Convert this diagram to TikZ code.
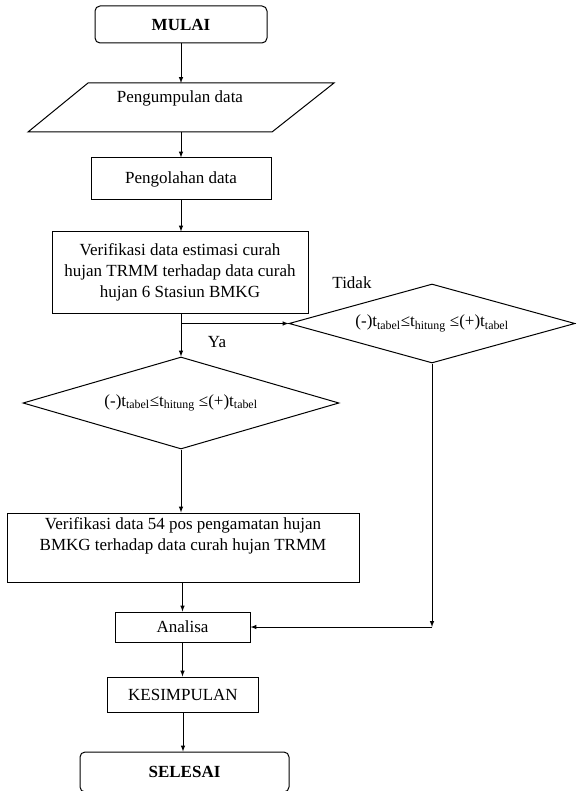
\documentclass[tikz,border=0pt]{standalone}
\usepackage{fontspec}
\setmainfont{Liberation Serif}
\usetikzlibrary{arrows,shapes.geometric}

\begin{document}
\begin{tikzpicture}[x=1pt, y=-1pt, line width=1pt,
  every node/.style={font=\fontsize{17}{21}\selectfont},
  terminal/.style={draw, rounded corners=5pt, inner sep=0pt},
  proses/.style={draw, inner sep=0pt, align=center},
  keputusan/.style={draw, diamond, aspect=3.4, inner sep=0pt},
  panah/.style={-latex}]
\useasboundingbox (0,0) rectangle (576,791);
\clip (0,0) rectangle (576,791);

\node[terminal, minimum width=172pt, minimum height=37pt] (mulai) at (181,24.5) {\textbf{MULAI}};

% input data
\draw (88,83) -- (334,83) -- (272,132) -- (28,132) -- cycle;
\coordinate (kumpulT) at (181,83);
\coordinate (kumpulB) at (181,132);
\node (kumpul) at (180,98) {Pengumpulan data};

\node[proses, minimum width=180pt, minimum height=42pt] (olah) at (181,179) {Pengolahan data};
\node[proses, minimum width=256pt, minimum height=81pt] (verif1) at (180,272.5) {Verifikasi data estimasi curah\\hujan TRMM terhadap data curah\\hujan 6 Stasiun BMKG};

\node[keputusan, minimum width=316pt, minimum height=92pt] (cek1) at (181,403) {(-)t\textsubscript{tabel}≤t\textsubscript{hitung} ≤(+)t\textsubscript{tabel}};
\node[keputusan, minimum width=286pt, minimum height=79pt] (cek2) at (432,323.5) {(-)t\textsubscript{tabel}≤t\textsubscript{hitung} ≤(+)t\textsubscript{tabel}};

\node[proses, minimum width=352pt, minimum height=69pt] (verif2) at (183,547.5) {Verifikasi data 54 pos pengamatan hujan\\BMKG terhadap data curah hujan TRMM\\ \strut};
\node[proses, minimum width=135pt, minimum height=30pt] (analisa) at (182.5,627) {Analisa};
\node[proses, minimum width=151pt, minimum height=35pt] (simpul) at (183,694.5) {KESIMPULAN};
\node[terminal, minimum width=209pt, minimum height=40pt] (selesai) at (184.5,772) {\textbf{SELESAI}};

\node (tidak) at (352,283) {Tidak};
\node (ya) at (217,342) {Ya};

% alur
\draw[panah] (mulai.south) -- (kumpulT);
\draw[panah] (kumpulB) -- (kumpulB |- olah.north);
\draw[panah] (olah.south) -- (olah.south |- verif1.north);
\draw[panah] (verif1.south -| cek1.north) -- (cek1.north);
\coordinate (cabang) at (cek1.north |- cek2.west);
\draw[panah] (cabang) -- (cek2.west);
\draw[panah] (cek1.south) -- (cek1.south |- verif2.north);
\draw[panah] (analisa.north |- verif2.south) -- (analisa.north);
\coordinate (belok) at (cek2.south |- analisa.east);
\draw[panah] (cek2.south) -- (belok);
\draw[panah] (belok) -- (analisa.east);
\draw[panah] (analisa.south) -- (analisa.south |- simpul.north);
\draw[panah] (simpul.south) -- (simpul.south |- selesai.north);
\end{tikzpicture}
\end{document}
